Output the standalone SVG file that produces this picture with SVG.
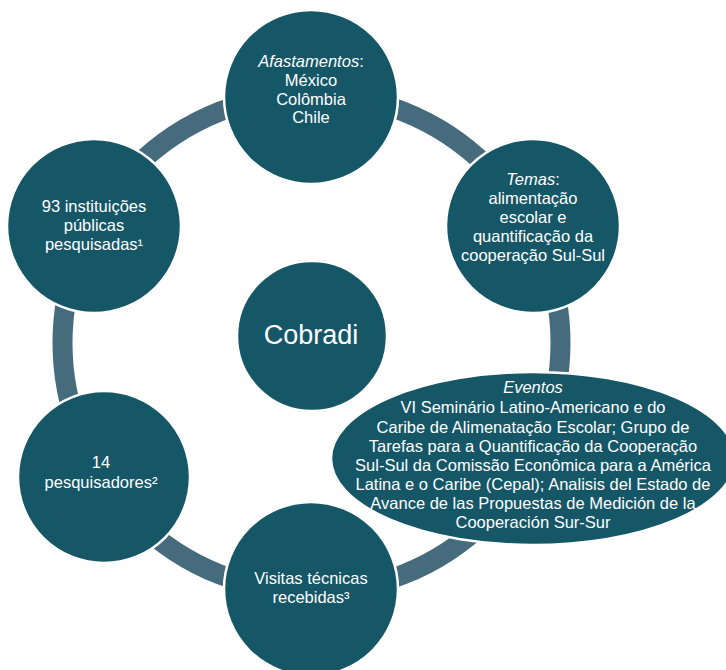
<svg xmlns="http://www.w3.org/2000/svg" width="726" height="670" viewBox="0 0 726 670">
<style>
.n{fill:#155667;stroke:#ffffff;stroke-width:2.5}
.t{font-family:"Liberation Sans",Arial,sans-serif;font-size:16.5px;fill:#ffffff;text-anchor:middle}
.i{font-style:italic}
.big{font-size:27px}
</style>
<rect width="726" height="670" fill="#ffffff"/>
<g id="connectors">
<circle cx="311.5" cy="343" r="249" fill="none" stroke="#466b7c" stroke-width="20"/>
</g>
<g id="center">
<circle class="n" cx="312" cy="336" r="75"/>
<text class="t big" x="311" y="344">Cobradi</text>
</g>
<g id="afastamentos">
<circle class="n" cx="311" cy="97" r="87"/>
<text class="t" x="311" y="67"><tspan class="i">Afastamentos</tspan>:</text>
<text class="t" x="311" y="86">México</text>
<text class="t" x="311" y="104.5">Colômbia</text>
<text class="t" x="311" y="123">Chile</text>
</g>
<g id="temas">
<circle class="n" cx="533" cy="226" r="87"/>
<text class="t" x="533" y="185"><tspan class="i">Temas</tspan>:</text>
<text class="t" x="533" y="204">alimentação</text>
<text class="t" x="533" y="223">escolar e</text>
<text class="t" x="533" y="242">quantificação da</text>
<text class="t" x="533" y="261">cooperação Sul-Sul</text>
</g>
<g id="instituicoes">
<circle class="n" cx="94" cy="226" r="87"/>
<text class="t" x="94" y="211.5">93 instituições</text>
<text class="t" x="94" y="231">públicas</text>
<text class="t" x="94" y="250">pesquisadas¹</text>
</g>
<g id="pesquisadores">
<circle class="n" cx="104" cy="477" r="86"/>
<text class="t" x="101" y="468">14</text>
<text class="t" x="101" y="487.5">pesquisadores²</text>
</g>
<g id="visitas">
<circle class="n" cx="311" cy="589" r="87"/>
<text class="t" x="311" y="584">Visitas técnicas</text>
<text class="t" x="311" y="603">recebidas³</text>
</g>
<g id="eventos">
<ellipse class="n" cx="533" cy="458.5" rx="202" ry="86.5"/>
<text class="t i" x="533" y="393">Eventos</text>
<text class="t" x="533" y="413">VI Seminário Latino-Americano e do</text>
<text class="t" x="533" y="432.5">Caribe de Alimenatação Escolar; Grupo de</text>
<text class="t" x="533" y="451.7">Tarefas para a Quantificação da Cooperação</text>
<text class="t" x="533" y="471">Sul-Sul da Comissão Econômica para a América</text>
<text class="t" x="533" y="490">Latina e o Caribe (Cepal); Analisis del Estado de</text>
<text class="t" x="533" y="509">Avance de las Propuestas de Medición de la</text>
<text class="t" x="533" y="528">Cooperación Sur-Sur</text>
</g>
</svg>
